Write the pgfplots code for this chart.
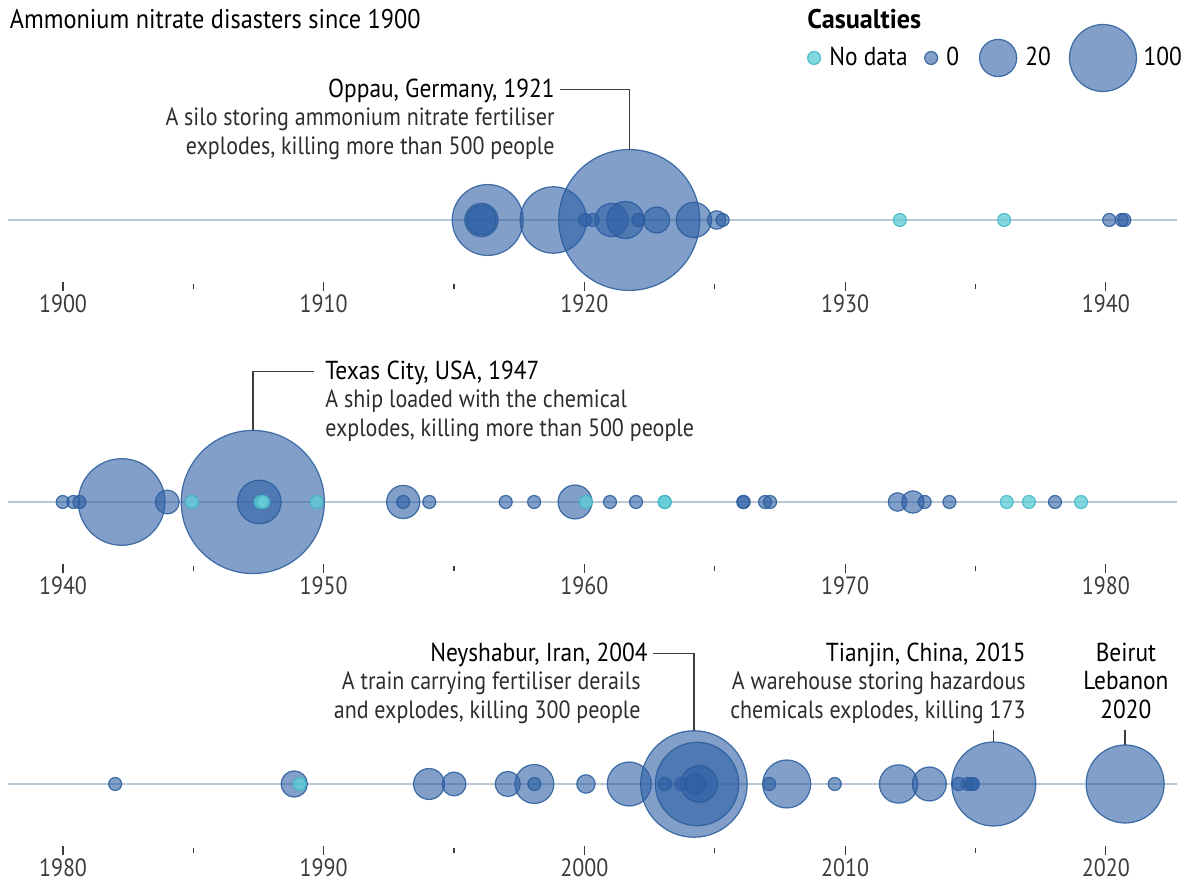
\documentclass[border=0pt]{standalone}
\usepackage{fontspec}
\setmainfont{PT Sans}[FakeStretch=0.88]
\newfontfamily\hdfont{PT Sans}[FakeStretch=0.9]
\newfontfamily\legfont{PT Sans}[FakeStretch=0.97]
\usepackage{pgfplots}
\usepackage{pgfplotstable}
\pgfplotsset{compat=1.18}

\definecolor{bub}{RGB}{45,95,165}
\definecolor{bubedge}{RGB}{40,92,155}
\definecolor{nd}{RGB}{100,205,215}
\definecolor{ndedge}{RGB}{60,180,195}
\definecolor{axisline}{RGB}{185,200,215}
\definecolor{tickc}{RGB}{60,60,60}
\definecolor{conn}{RGB}{60,60,60}
\definecolor{body}{RGB}{45,45,45}

% year, casualties (bubble radius in px = 6.5 + 2.7*sqrt(c))
\pgfplotstableread{
year c
1916.29 115
1916.05 14
1916.05 9
1918.81 98
1920.02 0
1920.32 0
1921.04 14
1921.57 20
1921.72 561
1922.07 0
1922.77 6
1924.20 17
1925.07 1
1925.30 0
1940.13 0
1940.61 0
1940.71 0
}\panelA
% no casualty data: year, position on the line
\pgfplotstableread{
year y
1932.10 0
1936.10 0
}\panelAnd

\pgfplotstableread{
year c
1939.99 0
1940.40 0
1940.63 0
1942.25 186
1944.00 4
1947.28 581
1947.53 32
1953.05 14
1953.05 0
1954.05 0
1956.98 0
1958.07 0
1959.64 15
1960.98 0
1961.98 0
1966.10 0
1966.10 0
1966.93 0
1967.12 0
1972.01 1
1972.60 3
1973.05 0
1974.00 0
1978.05 0
}\panelB
\pgfplotstableread{
year y
1944.94 0
1947.58 0
1947.68 0
1949.73 0
1960.06 0
1963.08 0
1963.08 0
1976.20 0
1977.05 0
1979.05 0
}\panelBnd

\pgfplotstableread{
year c
1982.00 0
1988.87 6
1994.04 11
1995.00 4
1997.06 5
1998.08 23
1998.08 0
2000.06 1
2001.72 33
2003.09 0
2003.73 0
2004.20 300
2004.32 170
2004.40 19
2004.25 2
2007.09 0
2007.76 42
2009.60 0
2012.05 22
2013.23 15
2014.35 0
2014.70 0
2014.85 0
2014.90 0
2015.70 173
2020.74 145
}\panelC
\pgfplotstableread{
year y
1989.08 0
}\panelCnd

% legend keys, placed in the top panel
\pgfplotstableread{
year c y
1933.30 0 162
1935.87 20 162
1939.89 100 162
}\legkeys

\pgfplotsset{
  panel/.style={
    scale only axis, width=584.5pt, height=141pt,
    ymin=-67, ymax=215, clip=false,
    axis y line=none, axis x line*=bottom,
    x axis line style={draw=none},
    tick align=center,
    major tick length=4.5pt, minor tick length=2.5pt,
    every tick/.style={tickc, line width=0.6pt},
    tick label style={font=\fontsize{12.5pt}{14pt}\selectfont, text=tickc, inner sep=0pt,
      /pgf/number format/1000 sep={}, /pgf/number format/assume math mode=true},
    xticklabel style={anchor=base, yshift=-10.5pt},
  },
  bubbles/.style={
    scatter, only marks, mark=*,
    point meta=\thisrow{c},
    scatter/use mapped color={draw=bubedge, fill=bub},
    visualization depends on={0.5*(6.5+2.7*sqrt(\thisrow{c}))\as\msize},
    scatter/@pre marker code/.append style={/tikz/mark size=\msize},
    mark options={fill opacity=0.6, draw opacity=0.85, line width=0.6pt},
  },
  nodata/.style={
    only marks, mark=*, mark size=3.25pt,
    mark options={fill=nd, draw=ndedge, fill opacity=0.8, draw opacity=0.8, line width=0.6pt},
  },
}
\tikzset{
  txt/.style={inner sep=0pt, font=\fontsize{12.5pt}{14pt}\selectfont},
  hd/.style={inner sep=0pt, text=black, font=\hdfont\fontsize{13pt}{14pt}\selectfont},
  bd/.style={txt, text=body},
  conn/.style={draw=conn, line width=0.7pt},
  base/.style={draw=axisline, line width=1pt},
}

\begin{document}
\begin{tikzpicture}
\useasboundingbox (0,0) rectangle (595pt,440.5pt);

% 1900-1940
\begin{axis}[panel, at={(4pt,297pt)}, anchor=south west,
  xmin=1897.89, xmax=1942.73,
  xtick={1900,1910,...,1940}, minor xtick={1905,1915,...,1935}]
\draw[base] (axis cs:1897.89,0) -- (axis cs:1942.73,0);
\addplot[bubbles] table[x=year, y expr=0] {\panelA};
\addplot[nodata] table[x=year, y=y] {\panelAnd};
% legend
\addplot[nodata] coordinates {(1928.81,162)};
\addplot[bubbles] table[x=year, y=y] {\legkeys};
\node[hd, anchor=base west, font=\hdfont\fontsize{13.5pt}{14pt}\selectfont] at (axis cs:1897.95,191.7) {Ammonium nitrate disasters since 1900};
\node[hd, anchor=base west, font=\legfont\fontsize{13.5pt}{14pt}\selectfont\bfseries] at (axis cs:1928.54,191.7) {Casualties};
\node[hd, anchor=base west] at (axis cs:1929.38,154) {No data};
\node[hd, anchor=base west] at (axis cs:1933.87,154) {0};
\node[hd, anchor=base west] at (axis cs:1936.90,154) {20};
\node[hd, anchor=base west] at (axis cs:1941.43,154) {100};
% Oppau
\node[hd, anchor=base east] at (axis cs:1918.87,122.8) {Oppau, Germany, 1921};
\node[bd, anchor=base east] at (axis cs:1918.87,94.3) {A silo storing ammonium nitrate fertiliser};
\node[bd, anchor=base east] at (axis cs:1918.87,65.8) {explodes, killing more than 500 people};
\draw[conn] (axis cs:1919.06,130.5) -- (axis cs:1921.72,130.5) -- (axis cs:1921.72,70.4);
\end{axis}

% 1940-1980
\begin{axis}[panel, at={(4pt,156pt)}, anchor=south west,
  xmin=1937.89, xmax=1982.73,
  xtick={1940,1950,...,1980}, minor xtick={1945,1955,...,1975}]
\draw[base] (axis cs:1937.89,0) -- (axis cs:1982.73,0);
\addplot[bubbles] table[x=year, y expr=0] {\panelB};
\addplot[nodata] table[x=year, y=y] {\panelBnd};
\node[hd, anchor=base west] at (axis cs:1950.05,122.8) {Texas City, USA, 1947};
\node[bd, anchor=base west] at (axis cs:1950.05,94.3) {A ship loaded with the chemical};
\node[bd, anchor=base west] at (axis cs:1950.05,65.8) {explodes, killing more than 500 people};
\draw[conn] (axis cs:1949.63,130.5) -- (axis cs:1947.28,130.5) -- (axis cs:1947.28,71.6);
\end{axis}

% 1980-2020
\begin{axis}[panel, at={(4pt,15pt)}, anchor=south west,
  xmin=1977.89, xmax=2022.73,
  xtick={1980,1990,...,2020}, minor xtick={1985,1995,...,2015}]
\draw[base] (axis cs:1977.89,0) -- (axis cs:2022.73,0);
\addplot[bubbles] table[x=year, y expr=0] {\panelC};
\addplot[nodata] table[x=year, y=y] {\panelCnd};
\node[hd, anchor=base east] at (axis cs:2002.44,122.8) {Neyshabur, Iran, 2004};
\node[bd, anchor=base east] at (axis cs:2002.17,94.3) {A train carrying fertiliser derails};
\node[bd, anchor=base east] at (axis cs:2002.17,65.8) {and explodes, killing 300 people};
\draw[conn] (axis cs:2002.63,130.5) -- (axis cs:2004.20,130.5) -- (axis cs:2004.20,53.3);
\node[hd, anchor=base east] at (axis cs:2016.94,122.8) {Tianjin, China, 2015};
\node[bd, anchor=base east] at (axis cs:2016.94,94.3) {A warehouse storing hazardous};
\node[bd, anchor=base east] at (axis cs:2016.94,65.8) {chemicals explodes, killing 173};
\draw[conn] (axis cs:2015.70,54) -- (axis cs:2015.70,42);
\node[hd, anchor=base] at (axis cs:2020.77,122.8) {Beirut};
\node[hd, anchor=base] at (axis cs:2020.77,94.3) {Lebanon};
\node[hd, anchor=base] at (axis cs:2020.77,65.8) {2020};
\draw[conn] (axis cs:2020.74,54) -- (axis cs:2020.74,39);
\end{axis}
\end{tikzpicture}
\end{document}
